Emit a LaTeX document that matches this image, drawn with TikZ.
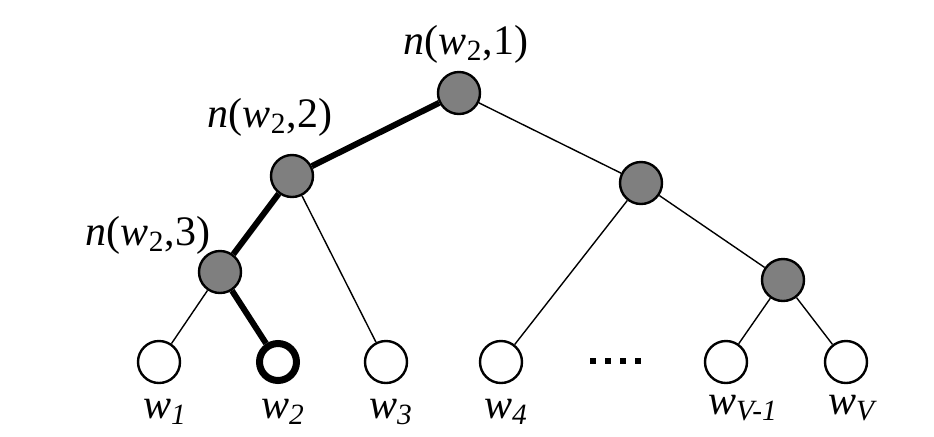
\documentclass[tikz,border=0pt]{standalone}
\usepackage{fontspec}
\setmainfont{Liberation Serif}
\usetikzlibrary{positioning}
\tikzset{
  inner/.style={circle,draw,line width=1.2pt,fill=gray,minimum size=21pt,inner sep=0pt},
  leaf/.style={circle,draw,line width=1.2pt,fill=white,minimum size=21pt,inner sep=0pt},
  thin/.style={line width=0.7pt},
  path/.style={line width=3pt},
  lbl/.style={font=\fontsize{21}{24}\selectfont,inner sep=0pt}
}
\definecolor{gray}{RGB}{127,127,127}
\newcommand{\nw}[1]{\textit{n}(\textit{w}\textsubscript{2},#1)}
\newcommand{\lw}[1]{\textit{w}\textsubscript{\textit{#1}}}
\begin{document}
\begin{tikzpicture}[x=0.5pt,y=-0.5pt]
\useasboundingbox (0,0) rectangle (934,436);
% inner nodes
\node[inner] (r) at (459,93){};
\node[inner] (a) at (292,176){};
\node[inner] (b) at (641,183){};
\node[inner] (c) at (220,272){};
\node[inner] (d) at (783,280){};
% leaves
\node[leaf] (w1) at (159,362){};
\node[leaf,line width=3.5pt,minimum size=18.5pt] (w2) at (278,362){};
\node[leaf] (w3) at (386,362){};
\node[leaf] (w4) at (501,362){};
\node[leaf] (wv1) at (726,362){};
\node[leaf] (wv) at (846,362){};
% edges
\draw[path] (r)--(a) (a)--(c) (c)--(w2);
\draw[thin] (r)--(b) (a)--(w3) (c)--(w1) (b)--(w4) (b)--(d) (d)--(wv1) (d)--(wv);
% labels
\node[lbl] (lr) at (466,44){\nw{1}};
\node[lbl] (la) at (270,117){\nw{2}};
\node[lbl] (lc) at (148,235){\nw{3}};
\node[lbl] (l1) at (165,412){\lw{1}};
\node[lbl] (l2) at (283,412){\lw{2}};
\node[lbl] (l3) at (391,412){\lw{3}};
\node[lbl] (l4) at (506,412){\lw{4}};
\node[lbl] (lv1) at (743,408){\lw{V-1}};
\node[lbl] (lv) at (853,408){\lw{V}};
% dots
\foreach \x in {593,608,623,638}
  \fill (\x-3,358) rectangle (\x+3,364);
\end{tikzpicture}
\end{document}
